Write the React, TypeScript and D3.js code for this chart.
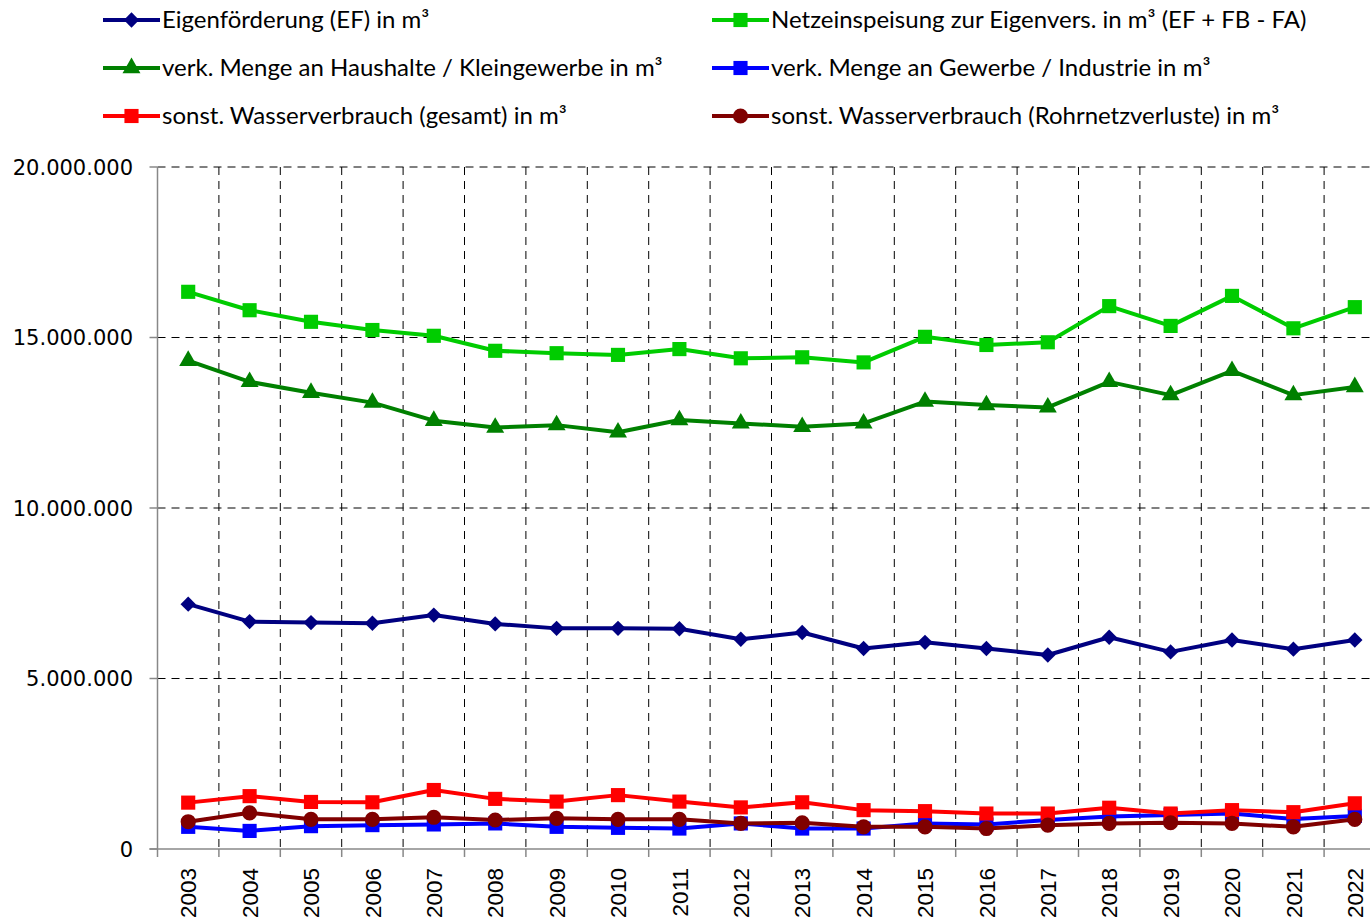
import React, { useEffect, useRef } from 'react';
import * as d3 from 'd3';

const years = ['2003', '2004', '2005', '2006', '2007', '2008', '2009', '2010', '2011', '2012',
  '2013', '2014', '2015', '2016', '2017', '2018', '2019', '2020', '2021', '2022'];

// values in m³
const eigenfoerderung = [7180000, 6670000, 6640000, 6620000, 6860000, 6600000, 6470000, 6470000, 6460000, 6150000,
  6350000, 5880000, 6060000, 5880000, 5690000, 6210000, 5780000, 6130000, 5860000, 6130000];
const netzeinspeisung = [16340000, 15800000, 15460000, 15220000, 15050000, 14610000, 14540000, 14490000, 14660000, 14390000,
  14420000, 14270000, 15020000, 14780000, 14860000, 15920000, 15340000, 16220000, 15270000, 15890000];
const haushalte = [14320000, 13700000, 13380000, 13090000, 12560000, 12360000, 12430000, 12220000, 12580000, 12480000,
  12380000, 12480000, 13120000, 13020000, 12950000, 13700000, 13310000, 14020000, 13310000, 13550000];
const gewerbe = [650000, 530000, 670000, 700000, 720000, 750000, 650000, 620000, 600000, 750000,
  600000, 600000, 750000, 720000, 850000, 950000, 1000000, 1040000, 880000, 970000];
const sonstGesamt = [1360000, 1550000, 1380000, 1370000, 1730000, 1470000, 1390000, 1580000, 1390000, 1220000,
  1370000, 1140000, 1110000, 1040000, 1040000, 1210000, 1040000, 1140000, 1080000, 1340000];
const rohrnetz = [800000, 1060000, 870000, 870000, 930000, 850000, 900000, 870000, 870000, 750000,
  770000, 650000, 650000, 600000, 700000, 750000, 770000, 750000, 650000, 870000];

const yTicks = [0, 5000000, 10000000, 15000000, 20000000];

type Marker = 'diamond' | 'square' | 'triangle' | 'circle';

interface Series {
  name: string;
  color: string;
  marker: Marker;
  values: number[];
}

const series: Series[] = [
  { name: 'Eigenförderung (EF) in m³', color: '#000080', marker: 'diamond', values: eigenfoerderung },
  { name: 'Netzeinspeisung zur Eigenvers. in m³ (EF + FB - FA)', color: '#00cc00', marker: 'square', values: netzeinspeisung },
  { name: 'verk. Menge an Haushalte / Kleingewerbe in m³', color: '#008000', marker: 'triangle', values: haushalte },
  { name: 'verk. Menge an Gewerbe / Industrie in m³', color: '#0000ff', marker: 'square', values: gewerbe },
  { name: 'sonst. Wasserverbrauch (gesamt) in m³', color: '#ff0000', marker: 'square', values: sonstGesamt },
  { name: 'sonst. Wasserverbrauch (Rohrnetzverluste) in m³', color: '#800000', marker: 'circle', values: rohrnetz },
];

const symbolFor = (m: Marker) => {
  switch (m) {
    case 'diamond': return d3.symbol(d3.symbolDiamond2, 150);
    case 'square': return d3.symbol(d3.symbolSquare, 200);
    case 'triangle': return d3.symbol(d3.symbolTriangle, 140);
    default: return d3.symbol(d3.symbolCircle, 180);
  }
};

const fmt = (v: number) => d3.format(',')(v).replace(/,/g, '.');

const App: React.FC = () => {
  const svgRef = useRef<SVGSVGElement>(null);

  useEffect(() => {
    document.body.style.margin = '0';
    if (!svgRef.current) return;
    const svg = d3.select(svgRef.current);
    svg.selectAll('*').remove();

    const left = 157.5;
    const right = 1385.5;
    const top = 167;
    const bottom = 849;

    const x = d3.scaleBand().domain(years).range([left, right]).padding(0);
    const y = d3.scaleLinear().domain([0, 20000000]).range([bottom, top]);
    const cx = (yr: string) => x(yr)! + x.bandwidth() / 2;

    // horizontal grid
    svg.append('g')
      .selectAll('line')
      .data(yTicks.filter(t => t > 0))
      .enter()
      .append('line')
      .attr('x1', left)
      .attr('x2', right)
      .attr('y1', d => y(d))
      .attr('y2', d => y(d))
      .attr('stroke', '#000')
      .attr('stroke-width', 1)
      .attr('stroke-dasharray', '8,6');

    // vertical grid between categories
    svg.append('g')
      .selectAll('line')
      .data(years.slice(1))
      .enter()
      .append('line')
      .attr('x1', d => x(d)!)
      .attr('x2', d => x(d)!)
      .attr('y1', top)
      .attr('y2', bottom)
      .attr('stroke', '#000')
      .attr('stroke-width', 1)
      .attr('stroke-dasharray', '8,6');

    // axes
    svg.append('line')
      .attr('x1', left).attr('x2', left)
      .attr('y1', top).attr('y2', bottom + 8)
      .attr('stroke', '#888').attr('stroke-width', 1.5);
    svg.append('line')
      .attr('x1', left - 8).attr('x2', right)
      .attr('y1', bottom).attr('y2', bottom)
      .attr('stroke', '#888').attr('stroke-width', 1.5);

    // y ticks
    svg.append('g')
      .selectAll('line')
      .data(yTicks)
      .enter()
      .append('line')
      .attr('x1', left - 8).attr('x2', left)
      .attr('y1', d => y(d)).attr('y2', d => y(d))
      .attr('stroke', '#888').attr('stroke-width', 1.5);

    svg.append('g')
      .selectAll('text')
      .data(yTicks)
      .enter()
      .append('text')
      .attr('x', 133)
      .attr('y', d => y(d))
      .attr('dy', '0.36em')
      .attr('text-anchor', 'end')
      .style('font-family', 'DejaVu Sans')
      .style('font-size', '21px')
      .style('fill', '#000')
      .text(d => fmt(d));

    // x ticks
    svg.append('g')
      .selectAll('line')
      .data(years.slice(1))
      .enter()
      .append('line')
      .attr('x1', d => x(d)!).attr('x2', d => x(d)!)
      .attr('y1', bottom).attr('y2', bottom + 8)
      .attr('stroke', '#888').attr('stroke-width', 1.5);

    svg.append('g')
      .selectAll('text')
      .data(years)
      .enter()
      .append('text')
      .attr('transform', d => `translate(${cx(d)},868) rotate(-90)`)
      .attr('dy', '0.36em')
      .attr('text-anchor', 'end')
      .style('font-family', 'Liberation Sans')
      .style('font-size', '22.5px')
      .style('fill', '#000')
      .text(d => d);

    // lines + markers
    const line = d3.line<number>()
      .x((_, i) => cx(years[i]))
      .y(d => y(d));

    series.forEach(s => {
      const g = svg.append('g');
      g.append('path')
        .datum(s.values)
        .attr('d', line)
        .attr('fill', 'none')
        .attr('stroke', s.color)
        .attr('stroke-width', 4)
        .attr('stroke-linejoin', 'round');
      g.selectAll('path.m')
        .data(s.values)
        .enter()
        .append('path')
        .attr('class', 'm')
        .attr('d', symbolFor(s.marker)()!)
        .attr('transform', (d, i) => `translate(${cx(years[i])},${y(d)})`)
        .attr('fill', s.color);
    });

    // legend
    const legendPos = [
      [103, 20], [712, 20],
      [103, 68], [712, 68],
      [103, 116], [712, 116],
    ];
    series.forEach((s, k) => {
      const [lx, ly] = legendPos[k];
      const lg = svg.append('g').attr('transform', `translate(${lx},${ly})`);
      lg.append('line')
        .attr('x1', 0).attr('x2', 57)
        .attr('y1', 0).attr('y2', 0)
        .attr('stroke', s.color).attr('stroke-width', 4);
      lg.append('path')
        .attr('d', symbolFor(s.marker)()!)
        .attr('transform', 'translate(28.5,0)')
        .attr('fill', s.color);
      lg.append('text')
        .attr('x', 59)
        .attr('y', 0)
        .attr('dy', '0.35em')
        .style('font-family', 'Lato')
        .style('font-size', '24px')
        .style('fill', '#000')
        .text(s.name);
    });
  }, []);

  return (
    <svg ref={svgRef} width={1370} height={920} style={{ display: 'block', background: '#fff' }} />
  );
};

export default App;
